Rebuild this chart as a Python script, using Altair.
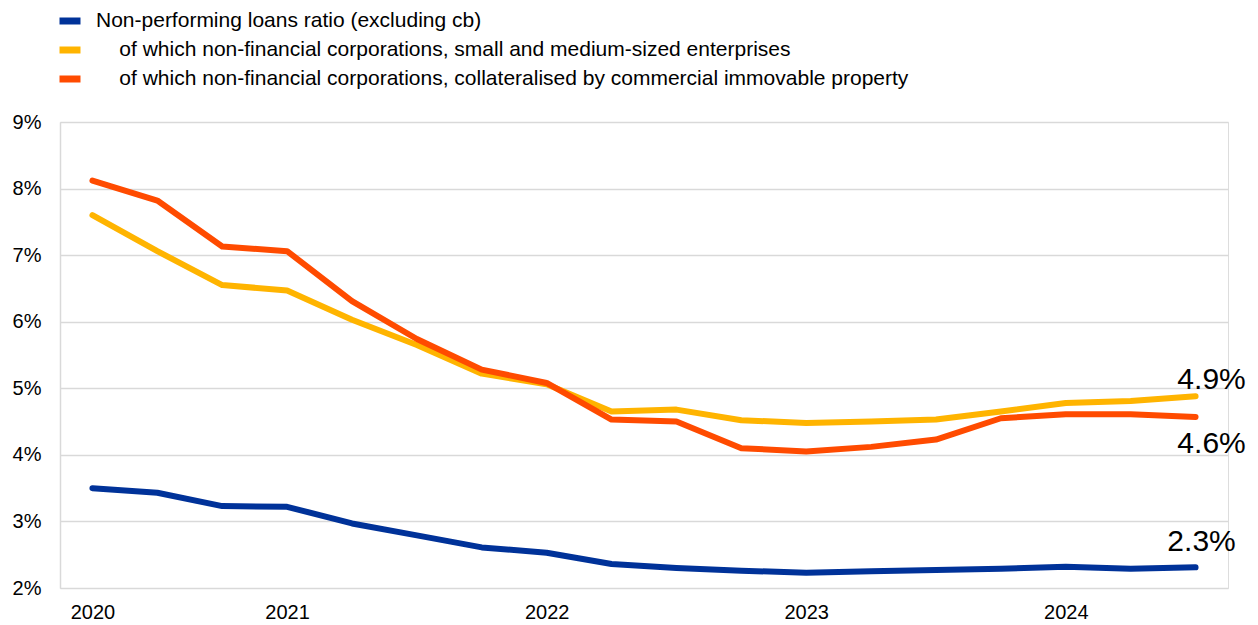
import altair as alt
import pandas as pd

# ---- data (quarterly observations, index 0..17) ----
quarter_index = list(range(18))
INDENT = "\u200b\u00a0\u00a0\u00a0\u00a0"
series_names = [
    "Non-performing loans ratio (excluding cb)",
    INDENT + "of which non-financial corporations, small and medium-sized enterprises",
    INDENT + "of which non-financial corporations, collateralised by commercial immovable property",
]
npl_total = [3.50, 3.43, 3.23, 3.22, 2.97, 2.79, 2.61, 2.53, 2.36, 2.30, 2.26, 2.23, 2.25, 2.27, 2.29, 2.32, 2.29, 2.31]
npl_sme = [7.60, 7.06, 6.55, 6.47, 6.03, 5.65, 5.22, 5.06, 4.65, 4.68, 4.52, 4.48, 4.50, 4.53, 4.65, 4.78, 4.81, 4.88]
npl_cre = [8.12, 7.82, 7.13, 7.06, 6.31, 5.74, 5.28, 5.08, 4.53, 4.50, 4.10, 4.05, 4.12, 4.23, 4.55, 4.61, 4.61, 4.57]
colors = ["#003299", "#FFB400", "#FF4B00"]

year_tick_positions = [0, 3, 7, 11, 15]
year_tick_labels = ["2020", "2021", "2022", "2023", "2024"]
end_labels = ["2.3%", "4.9%", "4.6%"]

FONT = "Liberation Sans"

rows = []
for name, vals in zip(series_names, [npl_total, npl_sme, npl_cre]):
    for i, v in zip(quarter_index, vals):
        rows.append({"idx": i, "value": v, "series": name})
df = pd.DataFrame(rows)

label_expr = " : ".join(
    f"datum.value == {p} ? '{l}'" for p, l in zip(year_tick_positions, year_tick_labels)
) + " : ''"

x = alt.X(
    "idx:Q",
    scale=alt.Scale(domain=[-0.5, 17.5], nice=False, zero=False),
    axis=alt.Axis(
        values=year_tick_positions,
        labelExpr=label_expr,
        title=None,
        grid=False,
        ticks=False,
        domain=False,
        labelFontSize=20,
        labelFont=FONT,
        labelColor="#000000",
        labelPadding=14,
    ),
)
y = alt.Y(
    "value:Q",
    scale=alt.Scale(domain=[2, 9], nice=False, zero=False),
    axis=alt.Axis(
        values=[2, 3, 4, 5, 6, 7, 8, 9],
        labelExpr="datum.value + '%'",
        title=None,
        grid=True,
        gridColor="#d9d9d9",
        gridWidth=1.5,
        ticks=False,
        domain=True,
        domainColor="#d9d9d9",
        domainWidth=1.5,
        labelFontSize=20,
        labelFont=FONT,
        labelColor="#000000",
        labelPadding=19,
    ),
)

lines = alt.Chart(df).mark_line(strokeWidth=6, strokeCap="round", strokeJoin="round").encode(
    x=x,
    y=y,
    color=alt.Color(
        "series:N",
        scale=alt.Scale(domain=series_names, range=colors),
        sort=series_names,
        legend=alt.Legend(
            title=None,
            orient="none",
            legendX=-4,
            legendY=-115,
            direction="vertical",
            symbolType="stroke",
            symbolSize=441,
            symbolStrokeWidth=7,
            labelFontSize=21,
            labelFont=FONT,
            labelColor="#000000",
            labelLimit=0,
            labelOffset=12,
            rowPadding=1,
            padding=0,
        ),
    ),
    order=alt.Order("idx:Q"),
)

last = df[df["idx"] == 17].copy()
last["label"] = end_labels

def end_text(series, dx, dy):
    return alt.Chart(last[last["series"] == series]).mark_text(
        fontSize=30, font=FONT, color="#000000", align="center", baseline="middle", dx=dx, dy=dy
    ).encode(x="idx:Q", y="value:Q", text="label:N")

chart = alt.layer(
    lines,
    end_text(series_names[0], 6, -25),
    end_text(series_names[1], 16, -16),
    end_text(series_names[2], 16, 27),
).properties(
    width=1168,
    height=466,
    autosize=alt.AutoSizeParams(type="none"),
    padding={"left": 60, "top": 122, "right": 30, "bottom": 37},
).configure_view(strokeWidth=0).configure(background="#ffffff")

chart.save("out.html", embed_options={"renderer": "svg", "actions": False})
